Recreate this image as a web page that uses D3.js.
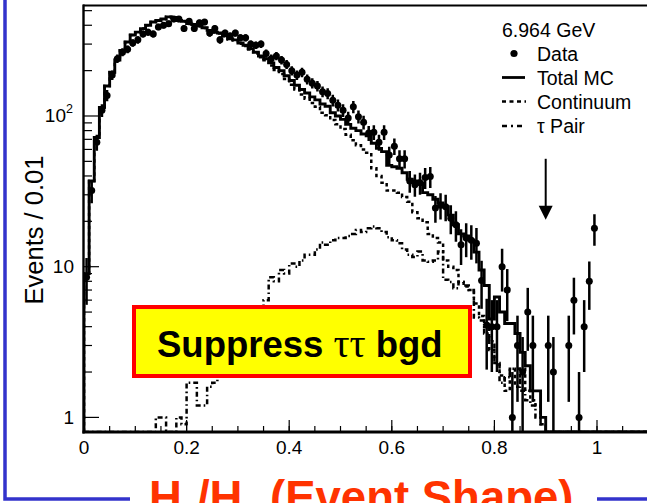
<!DOCTYPE html>
<html><head><meta charset="utf-8">
<script src="https://cdn.jsdelivr.net/npm/d3@7"></script>
<style>html,body{margin:0;padding:0;background:#fff;overflow:hidden}</style>
</head><body>
<svg id="c" width="647" height="503"></svg>
<script>
// ---- data (bins of width 0.01 starting at 0) ----
const binWidth = 0.01;
const totalMC = [
  9, 37, 72, 114, 158, 195, 235, 272, 310, 345,
  360, 380, 400, 420, 430, 440, 455, 450, 430, 425,
  410, 405, 395, 385, 370, 360, 355, 340, 325, 320,
  305, 295, 280, 265, 250, 240, 225, 210, 200, 185,
  172, 160, 150, 142, 134, 128, 120, 116, 105, 100,
  95, 88, 83, 80, 76, 74, 66, 61, 58, 47,
  46, 45, 42, 38, 37, 36, 31, 30, 28, 26.5,
  25, 22, 19, 16.5, 16, 15, 12.5, 9.5, 7.5, 4.5,
  6.3, 5, 4.2, 4.2, 3.6, 2.7, 2.2, 1.5, 1.5, 1.0,
  0, 0, 0, 0, 0, 0, 0, 0, 0, 0
];
const continuum = [
  9, 37, 72, 114, 158, 195, 235, 272, 310, 345,
  360, 380, 400, 420, 429, 439, 455, 450, 429, 424,
  408, 403, 394, 384, 368, 358, 353, 338, 322, 317,
  301, 291, 276, 260, 245, 234, 216, 202, 190, 176,
  161, 150, 139, 130, 122, 115, 105, 101, 94, 88,
  82, 75, 69, 64, 60, 57, 45, 40, 36, 32,
  32, 31, 29, 27, 23, 21, 19.7, 16.5, 15.5, 14.5,
  11, 10, 9.5, 7.9, 7.4, 7, 5.7, 4.7, 4, 2.8,
  2.3, 1.9, 1.5, 2.1, 1.6, 2.1, 1.5, 1.3, 1.2, 0.9,
  0, 0, 0, 0, 0, 0, 0, 0, 0, 0
];
const tauPair = [
  0, 0, 0, 0, 0, 0, 0, 0, 0, 0,
  0, 0, 0, 0, 1.0, 1.0, 0, 0, 1.0, 0.9,
  1.7, 1.7, 1.2, 1.2, 1.6, 1.7, 2.0, 2.2, 2.5, 3,
  3.5, 3.5, 4, 4.5, 5, 6, 8.5, 8, 9.5, 9,
  10.5, 10, 11, 12, 12, 13, 14.5, 14, 15, 15.5,
  15.5, 16, 16.5, 17.5, 17, 18, 18.5, 18, 17, 15.7,
  15, 14.3, 13, 12, 11.6, 12.6, 11, 10.8, 11, 12.6,
  8.2, 7.9, 7.2, 7.9, 7.5, 7, 4.6, 4.4, 3.6, 3.2,
  2.3, 1.7, 1.85, 2.1, 2.1, 1.5, 1.3, 1.2, 1.0, 0.9,
  0, 0, 0, 0, 0, 0, 0, 0, 0, 0
];
const dataCounts = [
  8.5, 32, 67, 109, 137, 187, 240, 265, 277, 305,
  320, 350, 360, 350, 390, 400, 410, 440, 440, 380,
  425, 380, 415, 420, 355, 380, 320, 355, 340, 355,
  330, 330, 300, 295, 300, 260, 240, 250, 235, 220,
  200, 187, 195, 175, 165, 158, 145, 141, 127, 118,
  109, 97, 115, 99, 91, 77, 78, 67, 78, 55,
  63, 52, 52, 37, 35, 36, 39, 39.6, 24.5, 25.6,
  25, 21, 19, 14, 15.5, 15, 14.3, 8.1, 4.1, 4,
  4, 10, 7, 1, 3, 2, 5, 3, 0, 0,
  3, 2, 0, 0, 3, 6, 1, 4, 8, 18
];
const xTicks = [0, 0.2, 0.4, 0.6, 0.8, 1];
const xTickLabels = ["0", "0.2", "0.4", "0.6", "0.8", "1"];
const yTicks = [1, 10, 100];
const yTickLabels = [["1", ""], ["10", ""], ["10", "2"]];
const yLabel = "Events / 0.01";
const legendTitle = "6.964 GeV";
const legendLabels = ["Data", "Total MC", "Continuum", "\u03C4 Pair"];
const cutValue = 0.9;
const arrowRange = [52, 20.5];
const boxText = ["Suppress ", "\u03C4\u03C4", " bgd"];
const titleParts = ["H", "2", "/H", "0", " (Event Shape)"];

// ---- drawing ----
const svg = d3.select("#c");
svg.append("rect").attr("width", 647).attr("height", 503).attr("fill", "#fff");

const L = 84, R = 648.3, T = 5.5, B = 432;
const x = d3.scaleLinear().domain([0, 1.1]).range([L, R]);
const yMin = 0.8;
const y = d3.scaleLog().domain([yMin, 541]).range([B, T]).clamp(true);

const font = "'Liberation Sans', Arial, Helvetica, sans-serif";

svg.append("clipPath").attr("id", "plot").append("rect")
  .attr("x", L).attr("y", T).attr("width", R - L).attr("height", B - T);
const g = svg.append("g").attr("clip-path", "url(#plot)");

function stepPoints(vals) {
  const pts = [[0, yMin]];
  vals.forEach((v, i) => pts.push([i * binWidth, v]));
  pts.push([vals.length * binWidth, 0]);
  pts.push([1.1, 0]);
  return pts;
}
const line = d3.line()
  .x(d => x(d[0]))
  .y(d => y(Math.max(d[1], yMin)))
  .curve(d3.curveStepAfter);

g.append("path").attr("d", line(stepPoints(tauPair)))
  .attr("fill", "none").attr("stroke", "#000").attr("stroke-width", 2.5)
  .attr("stroke-dasharray", "5,3,1.6,3");
g.append("path").attr("d", line(stepPoints(continuum)))
  .attr("fill", "none").attr("stroke", "#000").attr("stroke-width", 2.5)
  .attr("stroke-dasharray", "3.5,3");
g.append("path").attr("d", line(stepPoints(totalMC)))
  .attr("fill", "none").attr("stroke", "#000").attr("stroke-width", 2.9);

// data points with Poisson error bars
dataCounts.forEach((v, i) => {
  if (v <= 0) return;
  const cx = x((i + 0.5) * binWidth);
  const e = Math.sqrt(v);
  g.append("line").attr("x1", cx).attr("x2", cx)
    .attr("y1", y(v + e)).attr("y2", y(Math.max(v - e, yMin)))
    .attr("stroke", "#000").attr("stroke-width", 2.5);
  g.append("circle").attr("cx", cx).attr("cy", y(v)).attr("r", 3.5).attr("fill", "#000");
});

// frame / axes
svg.append("line").attr("x1", L - 1).attr("x2", 647).attr("y1", T).attr("y2", T)
  .attr("stroke", "#000").attr("stroke-width", 2.2);
svg.append("line").attr("x1", L - 0.5).attr("x2", L - 0.5).attr("y1", T - 1).attr("y2", B + 1.5)
  .attr("stroke", "#000").attr("stroke-width", 2.4);
svg.append("line").attr("x1", L - 1.5).attr("x2", 647).attr("y1", B).attr("y2", B)
  .attr("stroke", "#000").attr("stroke-width", 3);

// y ticks
const yMinor = [];
[1, 10, 100].forEach(d => { for (let k = 2; k <= 9; k++) { if (d * k <= 541) yMinor.push(d * k); } });
yMinor.forEach(v => svg.append("line").attr("x1", L).attr("x2", L + 8)
  .attr("y1", y(v)).attr("y2", y(v)).attr("stroke", "#000").attr("stroke-width", 1.2));
yTicks.forEach((v, i) => {
  svg.append("line").attr("x1", L).attr("x2", L + 15)
    .attr("y1", y(v)).attr("y2", y(v)).attr("stroke", "#000").attr("stroke-width", 1.2);
  svg.append("text").attr("x", yTickLabels[i][1] ? 66 : 74).attr("y", y(v) + 6.5)
    .attr("text-anchor", "end").attr("font-family", font).attr("font-size", 19)
    .text(yTickLabels[i][0]);
  if (yTickLabels[i][1]) {
    svg.append("text").attr("x", 66).attr("y", y(v) - 3).attr("font-family", font)
      .attr("font-size", 12.5).text(yTickLabels[i][1]);
  }
});

// x ticks
d3.range(0, 1.1001, 0.05).forEach(v => svg.append("line")
  .attr("x1", x(v)).attr("x2", x(v)).attr("y1", B).attr("y2", B - 6)
  .attr("stroke", "#000").attr("stroke-width", 1.2));
xTicks.forEach((v, i) => {
  svg.append("line").attr("x1", x(v)).attr("x2", x(v)).attr("y1", B).attr("y2", B - 12)
    .attr("stroke", "#000").attr("stroke-width", 1.2);
  svg.append("text").attr("x", x(v)).attr("y", 454).attr("text-anchor", "middle")
    .attr("font-family", font).attr("font-size", 19).text(xTickLabels[i]);
});

// y label
svg.append("text").attr("transform", "translate(43,230) rotate(-90)")
  .attr("text-anchor", "middle").attr("font-family", font).attr("font-size", 25.5)
  .text(yLabel);

// legend
svg.append("text").attr("x", 502).attr("y", 37).attr("font-family", font)
  .attr("font-size", 19.5).text(legendTitle);
const rowY = [53.5, 77.5, 101.5, 126];
legendLabels.forEach((lab, i) => {
  svg.append("text").attr("x", 537).attr("y", rowY[i] + 7).attr("font-family", font)
    .attr("font-size", 19.5).text(lab);
});
svg.append("circle").attr("cx", 514).attr("cy", rowY[0]).attr("r", 3.6).attr("fill", "#000");
svg.append("line").attr("x1", 502).attr("x2", 525).attr("y1", rowY[1]).attr("y2", rowY[1])
  .attr("stroke", "#000").attr("stroke-width", 2.8);
svg.append("line").attr("x1", 502).attr("x2", 526).attr("y1", rowY[2]).attr("y2", rowY[2])
  .attr("stroke", "#000").attr("stroke-width", 2.5).attr("stroke-dasharray", "4,3.5");
svg.append("line").attr("x1", 502).attr("x2", 526).attr("y1", rowY[3]).attr("y2", rowY[3])
  .attr("stroke", "#000").attr("stroke-width", 2.5).attr("stroke-dasharray", "5,4,2,4");

// cut arrow
const ax = x(cutValue);
svg.append("line").attr("x1", ax).attr("x2", ax).attr("y1", y(arrowRange[0])).attr("y2", y(arrowRange[1]) - 12)
  .attr("stroke", "#000").attr("stroke-width", 2);
svg.append("path").attr("d", `M${ax - 7},${y(arrowRange[1]) - 14} L${ax + 7},${y(arrowRange[1]) - 14} L${ax},${y(arrowRange[1])} Z`)
  .attr("fill", "#000");

// annotation box
svg.append("rect").attr("x", 134).attr("y", 307).attr("width", 336).attr("height", 69)
  .attr("fill", "#ffff00").attr("stroke", "#ff0000").attr("stroke-width", 4);
const bt = svg.append("text").attr("x", 157).attr("y", 357).attr("font-family", font)
  .attr("font-size", 36.5).attr("font-weight", "bold");
bt.append("tspan").text(boxText[0]);
bt.append("tspan").attr("font-family", "'Liberation Serif', 'Times New Roman', serif")
  .attr("font-weight", "normal").attr("font-size", 40).text(boxText[1]);
bt.append("tspan").text(boxText[2]);

// blue slide frame
svg.append("path").attr("d", "M5,0 V499 H130 M597,499 H647")
  .attr("fill", "none").attr("stroke", "#3333cc").attr("stroke-width", 3.5);

// title (cut off at the bottom of the picture, as in the original slide)
const tt = svg.append("text").attr("x", 149).attr("y", 513).attr("font-family", font)
  .attr("font-size", 45.5).attr("font-weight", "bold").attr("fill", "#ff3300");
tt.append("tspan").text(titleParts[0]);
tt.append("tspan").attr("font-size", 27).attr("dy", 18).text(titleParts[1]);
tt.append("tspan").attr("dy", -18).text(titleParts[2]);
tt.append("tspan").attr("font-size", 27).attr("dy", 18).text(titleParts[3]);
tt.append("tspan").attr("dy", -18).text(titleParts[4]);
</script>
</body></html>
